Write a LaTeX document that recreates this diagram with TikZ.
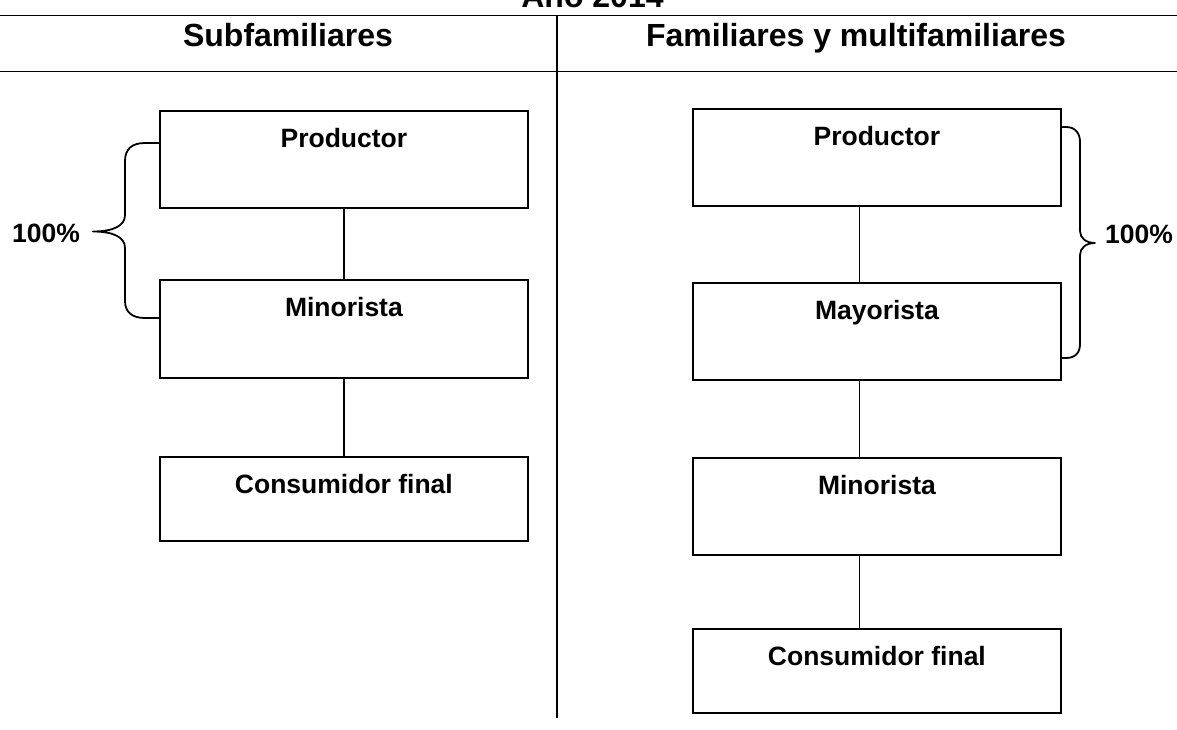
\documentclass[tikz,border=0pt]{standalone}
\usepackage{fontspec}
\setmainfont{Liberation Sans}
\begin{document}
\begin{tikzpicture}[x=1pt,y=-1pt,
  stagebox/.style={draw, line width=1.8pt, rectangle, anchor=north west,
    minimum width=368pt, inner sep=0pt,
    font=\fontsize{26.5}{30}\selectfont\bfseries, text height=37pt},
  rulel/.style={line width=1.8pt},
  divl/.style={line width=1.4pt},
  link/.style={line width=1.4pt},
  bracel/.style={line width=1.8pt, line join=round, line cap=round},
  head/.style={font=\fontsize{32}{36}\selectfont\bfseries, anchor=base, inner sep=0pt},
  pct/.style={font=\fontsize{26.5}{30}\selectfont\bfseries, anchor=base west, inner sep=0pt}]
\useasboundingbox (0,0) rectangle (1177,730);
\fill[white] (0,0) rectangle (1177,730);

% titles
\node[head] (year) at (592.5,8) {Año 2014};
\node[head] (hS) at (288,47) {Subfamiliares};
\node[head] (hF) at (856,47) {Familiares y multifamiliares};

% rules
\coordinate (t1) at (0,15.5);
\coordinate (t2) at (1177,15.5);
\coordinate (h1) at (0,71.5);
\coordinate (h2) at (1177,71.5);
\coordinate (d1) at (557,15);
\coordinate (d2) at (557,718);
\draw[rulel] (t1) -- (t2);
\draw[rulel] (h1) -- (h2);
\draw[divl] (d1) -- (d2);

% left column
\node[stagebox, text depth=60pt] (lP) at (159,110) {Productor};
\node[stagebox, text depth=61pt] (lM) at (159,279) {Minorista};
\node[stagebox, text depth=47pt] (lC) at (159,456) {Consumidor final};
\draw[link] (lP.south) -- (lM.north);
\draw[link] (lM.south) -- (lC.north);

% right column
\node[stagebox, text depth=60pt] (rP) at (692,108) {Productor};
\node[stagebox, text depth=60pt] (rMa) at (692,282) {Mayorista};
\node[stagebox, text depth=60pt] (rMi) at (692,457) {Minorista};
\node[stagebox, text depth=47pt] (rC) at (692,628) {Consumidor final};
\draw[link] ([xshift=-17.5pt]rP.south) -- ([xshift=-17.5pt]rMa.north);
\draw[link] ([xshift=-17.5pt]rMa.south) -- ([xshift=-17.5pt]rMi.north);
\draw[link] ([xshift=-17.5pt]rMi.south) -- ([xshift=-17.5pt]rC.north);

% left brace
\draw[bracel] (159,143) -- (145,143)
  .. controls (132,143) and (125,149) .. (125,161)
  -- (125,215)
  .. controls (125,226) and (113,231.5) .. (93,231.5)
  .. controls (113,231.5) and (125,237) .. (125,248)
  -- (125,301)
  .. controls (125,312) and (132,318) .. (145,318)
  -- (159,318);
\node[pct] (pL) at (12,242) {100\%};

% right brace
\draw[bracel] (1061,127) -- (1066,127)
  .. controls (1075,127) and (1080,133) .. (1080,142)
  -- (1080,231)
  .. controls (1080,238) and (1086,243) .. (1095,243)
  .. controls (1086,243) and (1080,248) .. (1080,255)
  -- (1080,344)
  .. controls (1080,353) and (1075,358) .. (1066,358)
  -- (1061,358);
\node[pct] (pR) at (1105,243) {100\%};
\end{tikzpicture}
\end{document}
